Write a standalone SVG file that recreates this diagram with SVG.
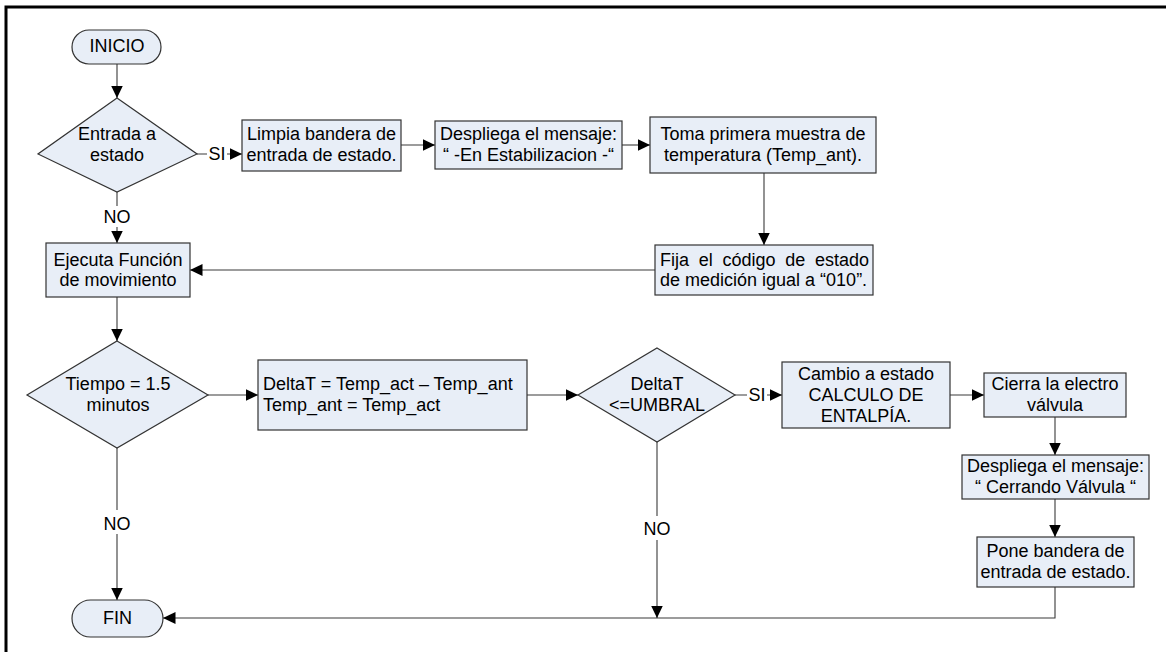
<svg xmlns="http://www.w3.org/2000/svg" width="1166" height="652" viewBox="0 0 1166 652">
<defs>
<marker id="arr" markerUnits="userSpaceOnUse" markerWidth="13" markerHeight="12" refX="12.5" refY="6" orient="auto">
<path d="M0,0 L12.5,6 L0,12 z" fill="#000"/>
</marker>
<style>
.n{fill:#E8EEF7;stroke:#333;stroke-width:1.2}
.t{font-family:"Liberation Sans",Arial,sans-serif;font-size:18px;fill:#000;text-anchor:middle}
.l{text-anchor:start}
.c{fill:none;stroke:#3a3a3a;stroke-width:1.1;marker-end:url(#arr)}
.bg{fill:#fff}
</style>
</defs>
<rect x="0" y="0" width="1166" height="652" fill="#fff"/>
<path d="M6,660 V7 H1175" fill="none" stroke="#000" stroke-width="3"/>

<g id="connectors">
<line class="c" x1="117" y1="64" x2="117" y2="98"/>
<line class="c" x1="197" y1="154" x2="242" y2="154"/>
<line class="c" x1="117" y1="192" x2="117" y2="243"/>
<line class="c" x1="401" y1="145" x2="435" y2="145"/>
<line class="c" x1="622" y1="145" x2="650" y2="145"/>
<line class="c" x1="764" y1="173" x2="764" y2="245"/>
<line class="c" x1="655" y1="270" x2="190" y2="270"/>
<line class="c" x1="117" y1="297" x2="117" y2="341"/>
<line class="c" x1="208" y1="395" x2="258" y2="395"/>
<line class="c" x1="527" y1="395" x2="578" y2="395"/>
<line class="c" x1="735" y1="395" x2="782" y2="395"/>
<line class="c" x1="950" y1="395" x2="984" y2="395"/>
<line class="c" x1="1055" y1="417" x2="1055" y2="455"/>
<line class="c" x1="1055" y1="499" x2="1055" y2="537"/>
<path class="c" d="M1055,587 V618 H163"/>
<line class="c" x1="657" y1="442" x2="657" y2="618"/>
<line class="c" x1="117" y1="448" x2="117" y2="600"/>
<rect class="bg" x="207" y="144" width="20" height="20"/>
<text class="t" x="217" y="160">SI</text>
<rect class="bg" x="101" y="206" width="32" height="21"/>
<text class="t" x="117" y="223">NO</text>
<rect class="bg" x="101" y="510" width="32" height="24"/>
<text class="t" x="117" y="530">NO</text>
<rect class="bg" x="641" y="516" width="32" height="24"/>
<text class="t" x="657" y="535">NO</text>
<rect class="bg" x="747" y="385" width="20" height="20"/>
<text class="t" x="757" y="401">SI</text>
</g>

<g id="inicio">
<rect class="n" x="72" y="30" width="89" height="34" rx="17" ry="17"/>
<text class="t" x="117" y="52">INICIO</text>
</g>

<g id="d_entrada">
<polygon class="n" points="117,98 197,154 117,192 38,154"/>
<text class="t" x="117" y="140">Entrada a</text>
<text class="t" x="117" y="160.5">estado</text>
</g>

<g id="limpia">
<rect class="n" x="242" y="120" width="159" height="51"/>
<text class="t" x="321.5" y="140">Limpia bandera de</text>
<text class="t" x="321.5" y="160.5">entrada de estado.</text>
</g>

<g id="despliega1">
<rect class="n" x="435" y="121" width="187" height="48"/>
<text class="t" x="528.5" y="140">Despliega el mensaje:</text>
<text class="t" x="528.5" y="160.5">“ -En Estabilizacion -“</text>
</g>

<g id="toma">
<rect class="n" x="650" y="117" width="226" height="56"/>
<text class="t" x="763" y="140">Toma primera muestra de</text>
<text class="t" x="763" y="160.5">temperatura (Temp_ant).</text>
</g>

<g id="fija">
<rect class="n" x="655" y="245" width="218" height="50"/>
<text class="t l" x="660" y="265.5" word-spacing="4.7">Fija el código de estado</text>
<text class="t l" x="660" y="286">de medición igual a “010”.</text>
</g>

<g id="ejecuta">
<rect class="n" x="46" y="243" width="144" height="54"/>
<text class="t" x="118" y="265.5">Ejecuta Función</text>
<text class="t" x="118" y="286">de movimiento</text>
</g>

<g id="d_tiempo">
<polygon class="n" points="117,341 208,395 117,448 27,395"/>
<text class="t" x="118" y="390">Tiempo = 1.5</text>
<text class="t" x="118" y="410.5">minutos</text>
</g>

<g id="deltat">
<rect class="n" x="258" y="360" width="269" height="70"/>
<text class="t l" x="263" y="390">DeltaT = Temp_act – Temp_ant</text>
<text class="t l" x="263" y="410.5">Temp_ant = Temp_act</text>
</g>

<g id="d_umbral">
<polygon class="n" points="657,348 735,395 657,442 578,395"/>
<text class="t" x="657" y="390">DeltaT</text>
<text class="t" x="657" y="410.5">&lt;=UMBRAL</text>
</g>

<g id="cambio">
<rect class="n" x="782" y="362" width="168" height="66"/>
<text class="t" x="866" y="379.5">Cambio a estado</text>
<text class="t" x="866" y="400.5">CALCULO DE</text>
<text class="t" x="866" y="421.5">ENTALPÍA.</text>
</g>

<g id="cierra">
<rect class="n" x="984" y="373" width="142" height="44"/>
<text class="t" x="1055" y="389.5">Cierra la electro</text>
<text class="t" x="1055" y="410.5">válvula</text>
</g>

<g id="despliega2">
<rect class="n" x="962" y="455" width="187" height="44"/>
<text class="t" x="1055.5" y="471.5">Despliega el mensaje:</text>
<text class="t" x="1055.5" y="492.5">“ Cerrando Válvula “</text>
</g>

<g id="pone">
<rect class="n" x="977" y="537" width="157" height="50"/>
<text class="t" x="1055.5" y="556.5">Pone bandera de</text>
<text class="t" x="1055.5" y="577.5">entrada de estado.</text>
</g>

<g id="fin">
<rect class="n" x="72" y="600" width="91" height="37" rx="18.5" ry="18.5"/>
<text class="t" x="117.5" y="624">FIN</text>
</g>
</svg>
